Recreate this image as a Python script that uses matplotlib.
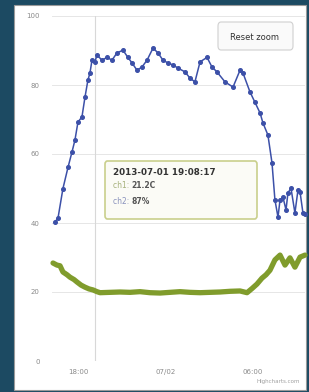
import matplotlib
matplotlib.use("Agg")
import matplotlib.pyplot as plt
import matplotlib.patches as patches
import numpy as np

# hours since 2013-07-01 00:00
ch2_hours = [16.42, 16.63, 16.97, 17.32, 17.59, 17.79, 18.00, 18.27, 18.48, 18.68, 18.82, 18.96,
             19.16, 19.30, 19.64, 19.99, 20.33, 20.67, 21.08, 21.42, 21.70, 22.04, 22.38, 22.73,
             23.14, 23.48, 23.82, 24.16, 24.51, 24.85, 25.33, 25.67, 26.01, 26.36, 26.84, 27.18,
             27.52, 28.07, 28.62, 29.10, 29.30, 29.78, 30.12, 30.47, 30.67, 31.01, 31.29, 31.49,
             31.70, 31.84, 32.04, 32.25, 32.38, 32.59, 32.86, 33.07, 33.21, 33.41, 33.55]
ch2_humidity = [40.3, 41.4, 50.0, 56.2, 60.6, 64.0, 69.3, 70.7, 76.5, 81.4, 83.5, 87.2,
                86.7, 88.7, 87.2, 88.0, 87.2, 89.3, 90.1, 88.0, 86.4, 84.3, 85.2, 87.2,
                90.7, 89.3, 87.2, 86.4, 85.8, 84.9, 83.8, 82.0, 80.9, 86.7, 88.0, 85.2,
                83.8, 80.9, 79.4, 84.3, 83.5, 78.0, 75.0, 71.9, 69.0, 65.5, 57.4, 46.7,
                41.7, 46.7, 47.5, 43.8, 48.7, 50.1, 42.9, 49.6, 49.0, 42.9, 42.5]

ch1_hours = [16.29, 16.56, 16.77, 16.97, 17.25, 17.45, 17.73, 17.93, 18.21, 18.48, 18.75, 19.03,
             19.30, 19.51, 20.19, 20.88, 21.56, 22.25, 22.93, 23.62, 24.30, 24.99, 25.67, 26.36,
             27.04, 27.73, 28.41, 29.10, 29.58, 29.92, 30.26, 30.60, 30.88, 31.15, 31.49, 31.84,
             32.18, 32.52, 32.86, 33.21, 33.55]
ch1_temp = [28.4, 27.8, 27.6, 25.8, 25.0, 24.3, 23.6, 22.9, 22.0, 21.4, 20.9, 20.6,
            20.1, 19.8, 19.9, 20.0, 19.9, 20.1, 19.8, 19.7, 19.9, 20.1, 19.9, 19.8,
            19.9, 20.0, 20.2, 20.3, 19.8, 21.0, 22.3, 24.0, 25.0, 26.3, 29.3, 30.7,
            27.8, 29.9, 27.2, 30.1, 30.7]

x_ticks = [18, 24, 30]
x_labels = ['18:00', '07/02', '06:00']
y_ticks = [0, 20, 40, 60, 80, 100]
hover_hour = 19.138

fig = plt.figure(figsize=(3.09, 3.92), dpi=100, facecolor='#1c4a62')
panel = patches.Rectangle((14/309, 2/392), 292/309, 385/392, facecolor='white',
                          edgecolor='#9a9a9a', linewidth=0.8, transform=fig.transFigure, zorder=-1)
fig.add_artist(panel)

ax = fig.add_axes([52/309, 31/392, 253/309, 345/392])
ax.set_facecolor('none')
ax.set_xlim(16.22, 33.55)
ax.set_ylim(0, 100)

for y in y_ticks:
    ax.axhline(y, color='#e6e6e6', linewidth=0.7, zorder=0)
ax.axvline(hover_hour, color='#d8d8d8', linewidth=0.8, zorder=0)

ax.plot(ch1_hours, ch1_temp, color='#809c2c', linewidth=3.8, solid_capstyle='round',
        solid_joinstyle='round', zorder=2, clip_on=False)
ax.plot(ch2_hours, ch2_humidity, color='#3c50a8', linewidth=1.1, marker='o',
        markersize=2.6, zorder=3, clip_on=False)

for s in ax.spines.values():
    s.set_visible(False)
ax.set_yticks(y_ticks)
ax.set_yticklabels([str(v) for v in y_ticks])
ax.set_xticks(x_ticks)
ax.set_xticklabels(x_labels)
ax.tick_params(axis='both', length=0, labelsize=5, labelcolor='#8a8a8a')
ax.tick_params(axis='y', pad=9)
ax.tick_params(axis='x', pad=6)

# tooltip
tip = patches.FancyBboxPatch((105/309, (392-219)/392), 152/309, 58/392,
                             boxstyle='round,pad=0,rounding_size=0.008',
                             facecolor='#fbfbf6', edgecolor='#c9cf8c', linewidth=1.2,
                             transform=fig.transFigure, zorder=4)
fig.add_artist(tip)
fig.text(113/309, (392-172)/392, '2013-07-01 19:08:17', fontsize=6.3, fontweight='bold',
         color='#333333', va='center', zorder=5)
fig.text(113/309, (392-186)/392, 'ch1: ', fontsize=5.5, color='#a5b07a', va='center', zorder=5)
fig.text(131/309, (392-186)/392, '21.2C', fontsize=5.5, fontweight='bold', color='#555555', va='center', zorder=5)
fig.text(113/309, (392-201)/392, 'ch2: ', fontsize=5.5, color='#8a93bd', va='center', zorder=5)
fig.text(131/309, (392-201)/392, '87%', fontsize=5.5, fontweight='bold', color='#555555', va='center', zorder=5)

# reset zoom button
btn = patches.FancyBboxPatch((218/309, (392-50)/392), 75/309, 28/392,
                             boxstyle='round,pad=0,rounding_size=0.01',
                             facecolor='#fafafa', edgecolor='#d0d0d0', linewidth=0.8,
                             transform=fig.transFigure, zorder=4)
fig.add_artist(btn)
fig.text(255/309, (392-37)/392, 'Reset zoom', fontsize=6, color='#333333', ha='center', va='center', zorder=5)

fig.text(300/309, (392-381)/392, 'Highcharts.com', fontsize=4, color='#a0a0a0', ha='right', va='center')

plt.savefig('out.png', dpi=100, facecolor=fig.get_facecolor())
